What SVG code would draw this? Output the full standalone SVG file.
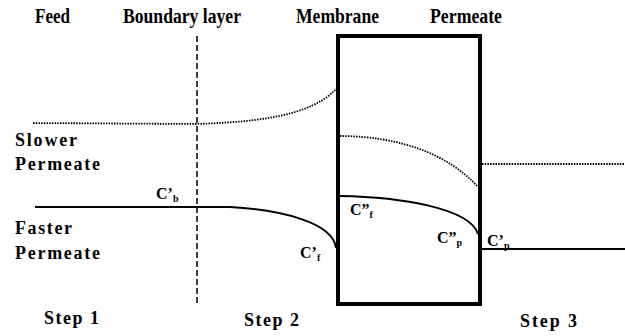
<svg xmlns="http://www.w3.org/2000/svg" width="625" height="336" viewBox="0 0 625 336">
<style>
text{font-family:"Liberation Serif","Times New Roman",serif;font-weight:bold;fill:#000}
.h{font-size:20px}
.l{font-size:18px}
.c{font-size:16px}
.s{font-size:10px}
.dot{fill:none;stroke:#000;stroke-width:1.8;stroke-dasharray:1.5 1.2}
.sol{fill:none;stroke:#000;stroke-width:2}
</style>
<rect width="625" height="336" fill="#fff"/>
<g id="titles">
<text class="h" x="35" y="23" textLength="35" lengthAdjust="spacingAndGlyphs">Feed</text>
<text class="h" x="123" y="23" textLength="118" lengthAdjust="spacingAndGlyphs">Boundary layer</text>
<text class="h" x="296" y="23" textLength="83" lengthAdjust="spacingAndGlyphs">Membrane</text>
<text class="h" x="430" y="23" textLength="72" lengthAdjust="spacingAndGlyphs">Permeate</text>
</g>
<g id="side-labels">
<text class="l" x="15" y="146" textLength="62" lengthAdjust="spacing">Slower</text>
<text class="l" x="15" y="170" textLength="85" lengthAdjust="spacing">Permeate</text>
<text class="l" x="15" y="234" textLength="57" lengthAdjust="spacing">Faster</text>
<text class="l" x="15" y="259" textLength="85" lengthAdjust="spacing">Permeate</text>
<text class="l" x="44" y="324" textLength="55" lengthAdjust="spacing">Step 1</text>
<text class="l" x="244" y="326" textLength="55" lengthAdjust="spacing">Step 2</text>
<text class="l" x="520" y="327" textLength="57" lengthAdjust="spacing">Step 3</text>
</g>
<g id="membrane">
<rect x="338" y="36" width="142" height="268" fill="none" stroke="#000" stroke-width="4"/>
</g>
<g id="boundary">
<line x1="197" y1="36" x2="197" y2="304" stroke="#000" stroke-width="1.5" stroke-dasharray="6 3"/>
</g>
<g id="connectors">
<path class="dot" d="M33 123 L197 124 C250 122 310 118 337 88"/>
<path class="dot" d="M340 136 C380 136 440 145 478 187"/>
<path class="dot" d="M482 164 L625 164"/>
<path class="sol" d="M35 207 L230 207 C280 210 333 222 336 248"/>
<path class="sol" d="M340 196 C400 197 470 208 478 234"/>
<path class="sol" d="M482 249 L625 249"/>
</g>
<g id="conc-labels">
<text class="c" x="156" y="199">C’<tspan class="s" dy="3">b</tspan></text>
<text class="c" x="300" y="258">C’<tspan class="s" dy="3">f</tspan></text>
<text class="c" x="350" y="215">C”<tspan class="s" dy="3">f</tspan></text>
<text class="c" x="437" y="243">C”<tspan class="s" dy="3">p</tspan></text>
<text class="c" x="487" y="246">C’<tspan class="s" dy="3">p</tspan></text>
</g>
</svg>
